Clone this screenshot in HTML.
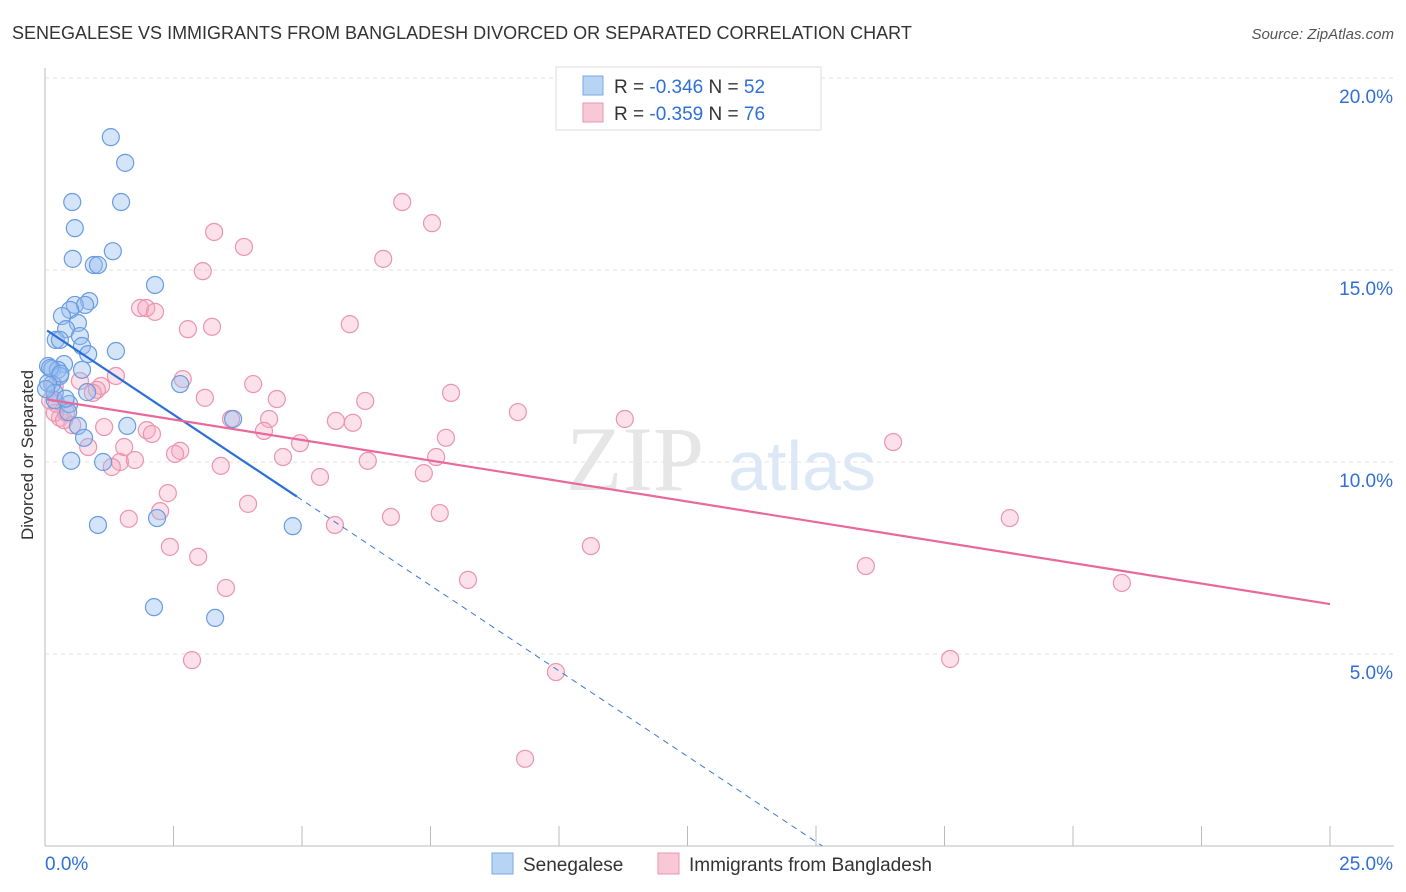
<!DOCTYPE html>
<html><head><meta charset="utf-8"><style>
body{margin:0;background:#fff;font-family:"Liberation Sans",sans-serif;}
svg{display:block}
</style></head><body>
<svg width="1406" height="892" xmlns="http://www.w3.org/2000/svg">
<text x="12" y="39" font-size="18" fill="#333">SENEGALESE VS IMMIGRANTS FROM BANGLADESH DIVORCED OR SEPARATED CORRELATION CHART</text>
<text x="1394" y="39" font-size="15" fill="#555" font-style="italic" text-anchor="end">Source: ZipAtlas.com</text>
<g id="grid"></g>
<g><text x="635" y="490" font-size="92" fill="#e6e6e6" font-family="Liberation Serif,serif" text-anchor="middle">ZIP</text><text x="802" y="490" font-size="70" fill="#dce8f5" text-anchor="middle">atlas</text></g>
<g id="axes"></g>
<g id="pts"></g>
<g id="lines"></g>
<text x="33" y="455" font-size="17" fill="#333" text-anchor="middle" transform="rotate(-90 33 455)">Divorced or Separated</text>
<g>
<rect x="556" y="67" width="265" height="63" fill="#fff" stroke="#ddd"/>
<rect x="583" y="76" width="20" height="19" fill="#b8d4f5" stroke="#7aa8e0"/>
<rect x="583" y="103" width="20" height="19" fill="#f9c8d6" stroke="#eb94ad"/>
<text x="614" y="93" font-size="19" fill="#333">R = <tspan fill="#2f6fd6">-0.346</tspan>   N = <tspan fill="#2f6fd6">52</tspan></text>
<text x="614" y="120" font-size="19" fill="#333">R = <tspan fill="#2f6fd6">-0.359</tspan>   N = <tspan fill="#2f6fd6">76</tspan></text>
</g>
<g>
<rect x="492" y="853" width="21" height="21" fill="#b8d4f5" stroke="#7aa8e0"/>
<text x="523" y="871" font-size="19" fill="#333">Senegalese</text>
<rect x="658" y="853" width="21" height="21" fill="#f9c8d6" stroke="#eb94ad"/>
<text x="689" y="871" font-size="19" fill="#333">Immigrants from Bangladesh</text>
</g>
</svg>
<script>
const blueX=[1.28,1.56,0.53,1.48,0.58,1.32,0.54,0.95,1.03,2.14,0.86,0.58,0.78,0.49,0.33,0.64,0.41,0.68,0.21,0.29,0.72,1.38,0.84,0.37,0.06,0.14,0.25,0.72,0.29,2.63,0.14,0.82,0.19,0.47,0.45,3.66,0.64,1.6,0.76,0.51,1.13,1.03,2.18,4.82,2.12,3.31,0.06,0.19,0.1,0.3,0.02,0.4];
const blueY=[18.46,17.79,16.77,16.77,16.09,15.49,15.29,15.13,15.13,14.61,14.19,14.09,14.09,13.96,13.8,13.62,13.46,13.28,13.18,13.18,13.02,12.89,12.81,12.55,12.5,12.42,12.4,12.4,12.24,12.03,12.03,11.82,11.61,11.51,11.3,11.12,10.94,10.94,10.63,10.03,10.0,8.36,8.54,8.33,6.22,5.94,12.06,11.8,12.45,12.3,11.9,11.65];
const pinkX=[6.95,7.53,3.29,3.87,6.58,3.07,1.85,1.97,2.14,5.93,2.78,3.25,1.38,2.68,0.68,4.05,1.09,1.01,3.11,7.9,4.51,6.23,0.23,9.2,3.62,11.28,4.36,5.66,5.99,4.26,1.98,2.08,1.15,7.8,4.96,16.5,1.54,0.84,2.63,2.53,4.63,7.61,6.28,1.46,1.75,1.3,3.42,7.37,5.35,2.39,3.95,2.24,7.68,6.73,1.63,5.64,18.77,10.62,2.43,2.98,8.23,20.95,15.97,3.52,2.86,17.61,9.94,9.34,0.19,0.29,0.41,0.53,0.19,0.37,0.93,0.1];
const pinkY=[16.77,16.22,15.99,15.6,15.29,14.97,14.01,14.01,13.91,13.59,13.46,13.52,12.24,12.16,12.11,12.03,11.98,11.88,11.67,11.8,11.64,11.59,11.51,11.3,11.12,11.12,11.12,11.07,11.02,10.81,10.83,10.73,10.91,10.63,10.49,10.52,10.39,10.39,10.29,10.21,10.13,10.13,10.03,10.0,10.05,9.87,9.9,9.71,9.61,9.19,8.91,8.72,8.67,8.57,8.52,8.36,8.54,7.81,7.79,7.53,6.93,6.85,7.29,6.72,4.84,4.87,4.53,2.27,11.98,11.15,11.28,10.96,11.28,11.09,11.8,11.6];
const blueLine=[13.46,-0.89];
const pinkLine=[11.64,-0.2136];
const yTicks=[5,10,15,20];
const yTickLabels=["5.0%","10.0%","15.0%","20.0%"];
const xTickLabels=["0.0%","25.0%"];
const X=v=>45+v*51.4, Y=v=>846-v*38.4;
const NS="http://www.w3.org/2000/svg";
function mk(t,a,p){const e=document.createElementNS(NS,t);for(const k in a)e.setAttribute(k,a[k]);p.appendChild(e);return e;}
const grid=document.getElementById('grid'),axes=document.getElementById('axes'),pts=document.getElementById('pts'),lines=document.getElementById('lines');
yTicks.forEach((v,i)=>{
 const l=mk('line',{x1:45,x2:1394,y1:Y(v),y2:Y(v),stroke:'#e3e3e3','stroke-dasharray':'4 4'},grid);
 
 
 const t=mk('text',{x:1393,y:Y(v)+25,'font-size':19,fill:'#2f6fd6','text-anchor':'end'},axes);
 t.textContent=yTickLabels[i];
 
 
});
mk('line',{x1:45,x2:45,y1:68,y2:846,stroke:'#bbb'},axes);
mk('line',{x1:45,x2:1394,y1:846,y2:846,stroke:'#bbb'},axes);
for(let i=0;i<=10;i++){mk('line',{x1:X(i*2.5),x2:X(i*2.5),y1:826,y2:846,stroke:'#bbb'},axes);}
[0,25].forEach((v,i)=>{const t=mk('text',{x:i?1393:45,y:870,'font-size':19,fill:'#2f6fd6','text-anchor':i?'end':'start'},axes);t.textContent=xTickLabels[i];
 
 });
pinkX.forEach((x,i)=>{const c=mk('circle',{cx:X(x),cy:Y(pinkY[i]),r:8.5,fill:'rgba(246,170,195,0.35)',stroke:'#eb94ad','stroke-width':1.2},pts);
 
 });
blueX.forEach((x,i)=>{const c=mk('circle',{cx:X(x),cy:Y(blueY[i]),r:8.5,fill:'rgba(150,190,240,0.4)',stroke:'#6a9ce0','stroke-width':1.2},pts);
 
 });
const bl=v=>blueLine[0]+blueLine[1]*v, pl=v=>pinkLine[0]+pinkLine[1]*v;
const x0=-blueLine[0]/blueLine[1];
let e=mk('line',{x1:X(4.9),y1:Y(bl(4.9)),x2:X(x0),y2:Y(0),stroke:'#3a78d8','stroke-width':1,'stroke-dasharray':'6 5'},lines);


e=mk('line',{x1:X(0.04),y1:Y(bl(0.04)),x2:X(4.9),y2:Y(bl(4.9)),stroke:'#2a6fd6','stroke-width':2.2},lines);


e=mk('line',{x1:X(0.04),y1:Y(pl(0.04)),x2:X(25),y2:Y(pl(25)),stroke:'#e8699a','stroke-width':2.2},lines);


</script>
</body></html>
